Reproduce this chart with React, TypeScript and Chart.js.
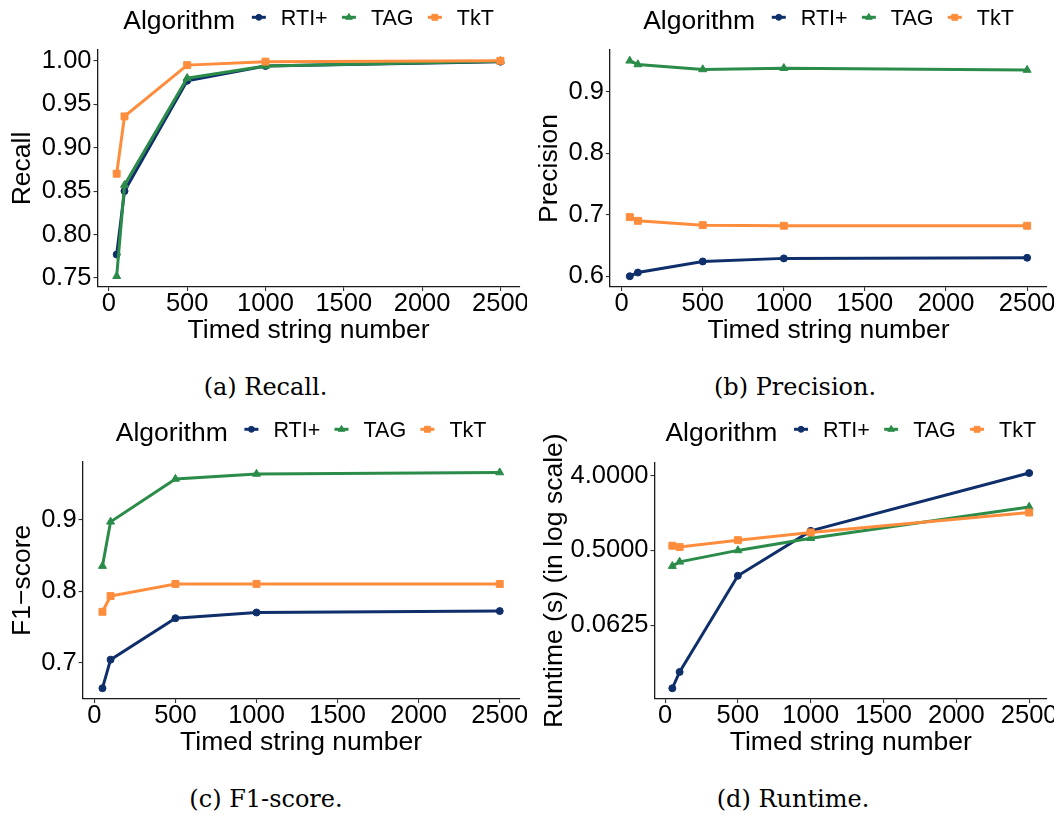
import React, { useEffect, useRef } from 'react';
import { Chart, registerables } from 'chart.js';
import { drawPoint } from 'chart.js/helpers';

Chart.register(...registerables);

// ---------------- data ----------------
const SIZES = [50, 100, 500, 1000, 2500];
const ALGORITHMS = ['RTI+', 'TAG', 'TkT'];
const X_TICKS = [0, 500, 1000, 1500, 2000, 2500];

const RECALL_RTI = [0.777, 0.850, 0.977, 0.994, 0.999];
const RECALL_TAG = [0.752, 0.857, 0.980, 0.994, 0.9995];
const RECALL_TKT = [0.870, 0.936, 0.995, 0.999, 1.0];
const RECALL_TICKS = [0.75, 0.8, 0.85, 0.9, 0.95, 1.0];

const PRECISION_RTI = [0.600, 0.606, 0.624, 0.629, 0.630];
const PRECISION_TAG = [0.950, 0.944, 0.936, 0.938, 0.935];
const PRECISION_TKT = [0.696, 0.690, 0.683, 0.682, 0.682];
const PRECISION_TICKS = [0.6, 0.7, 0.8, 0.9];

const F1_RTI = [0.664, 0.704, 0.762, 0.770, 0.772];
const F1_TAG = [0.835, 0.897, 0.957, 0.964, 0.966];
const F1_TKT = [0.771, 0.793, 0.810, 0.810, 0.810];
const F1_TICKS = [0.7, 0.8, 0.9];

const RUNTIME_RTI = [0.0108, 0.017, 0.247, 0.861, 4.3];
const RUNTIME_TAG = [0.323, 0.364, 0.5, 0.703, 1.675];
const RUNTIME_TKT = [0.57, 0.548, 0.665, 0.824, 1.434];
const RUNTIME_TICKS = [0.0625, 0.5, 4];

const LEGEND_TITLE = 'Algorithm';
const X_TITLE = 'Timed string number';

// ---------------- styles ----------------
const FONT = '"Liberation Sans", Arial, sans-serif';
const COLORS = ['#0f2f6b', '#2b8c49', '#fd8d3c'];
const POINT_STYLES = ['circle', 'triangle', 'rect'];
const POINT_RADII = [3.5, 4.6, 4.9];
const LINE_WIDTH = 3;
const TICK_SIZE = 25.5;
const TITLE_SIZE = 26.5;
const LEGEND_TITLE_SIZE = 26.5;
const LEGEND_LABEL_SIZE = 21.5;

const TITLE_GAP = 23.7;
const KEY_TEXT = 22;
const TEXT_KEY = 21.3;

const ggLegend = {
  id: 'ggLegend',
  afterDraw(chart: any) {
    const { ctx, chartArea } = chart;
    const datasets = chart.data.datasets;
    ctx.save();
    ctx.font = `${LEGEND_TITLE_SIZE}px ${FONT}`;
    const titleW = ctx.measureText(LEGEND_TITLE).width;
    ctx.font = `${LEGEND_LABEL_SIZE}px ${FONT}`;
    const widths = datasets.map((d: any) => ctx.measureText(d.label).width);
    const total =
      titleW +
      TITLE_GAP +
      widths.reduce((s: number, w: number) => s + KEY_TEXT + w, 0) +
      TEXT_KEY * (datasets.length - 1);
    let x = (chartArea.left + chartArea.right) / 2 - total / 2;
    ctx.textAlign = 'left';
    ctx.textBaseline = 'alphabetic';
    ctx.fillStyle = '#000';
    ctx.font = `${LEGEND_TITLE_SIZE}px ${FONT}`;
    ctx.fillText(LEGEND_TITLE, x, 29.3);
    x += titleW + TITLE_GAP;
    const keyY = 17.3;
    datasets.forEach((d: any, i: number) => {
      ctx.strokeStyle = d.borderColor;
      ctx.lineWidth = d.borderWidth;
      ctx.beginPath();
      ctx.moveTo(x - 7, keyY);
      ctx.lineTo(x + 7, keyY);
      ctx.stroke();
      ctx.fillStyle = d.pointBackgroundColor;
      ctx.strokeStyle = d.pointBorderColor;
      ctx.lineWidth = 1;
      drawPoint(ctx, { pointStyle: d.pointStyle, radius: d.pointRadius * 0.85, rotation: 0, borderWidth: 1 } as any, x, keyY);
      ctx.fillStyle = '#000';
      ctx.font = `${LEGEND_LABEL_SIZE}px ${FONT}`;
      ctx.fillText(d.label, x + KEY_TEXT, 25);
      x += KEY_TEXT + widths[i] + TEXT_KEY;
    });
    ctx.restore();
  },
};

type PanelCfg = {
  left: number;
  top: number;
  width: number;
  height: number;
  chartLeft: number;
  padTop: number;
  padRight: number;
  yTitlePad: number;
  yTitle: string;
  series: number[][];
  yTicks: number[];
  decimals: number;
  log: boolean;
};

function expand(values: number[], log: boolean) {
  const v = log ? values.map((x) => Math.log2(x)) : values;
  const lo = Math.min(...v);
  const hi = Math.max(...v);
  const r = hi - lo;
  const a = lo - 0.05 * r;
  const b = hi + 0.05 * r;
  return log ? [Math.pow(2, a), Math.pow(2, b)] : [a, b];
}

function buildConfig(cfg: PanelCfg): any {
  const [xMin, xMax] = expand(SIZES, false);
  const all = cfg.series.flat();
  const [yMin, yMax] = expand(all, cfg.log);
  const tickFont = { family: FONT, size: TICK_SIZE, lineHeight: 1 };
  const titleFont = { family: FONT, size: TITLE_SIZE, lineHeight: 1.2 };
  const grid = {
    display: true,
    drawOnChartArea: false,
    drawTicks: true,
    tickLength: 4,
    color: '#333',
    lineWidth: 1.1,
  };
  const border = { display: true, color: '#1a1a1a', width: 1.3 };
  return {
    type: 'line',
    data: {
      datasets: ALGORITHMS.map((name, i) => ({
        label: name,
        data: SIZES.map((x, j) => ({ x, y: cfg.series[i][j] })),
        borderColor: COLORS[i],
        backgroundColor: COLORS[i],
        pointBackgroundColor: COLORS[i],
        pointBorderColor: COLORS[i],
        pointStyle: POINT_STYLES[i],
        pointRadius: POINT_RADII[i],
        pointBorderWidth: 1,
        borderWidth: LINE_WIDTH,
        tension: 0,
        fill: false,
        order: ALGORITHMS.length - 1 - i,
      })),
    },
    options: {
      responsive: false,
      animation: false,
      devicePixelRatio: 1,
      layout: { padding: { top: cfg.padTop, right: cfg.padRight, bottom: 0, left: 0 } },
      plugins: { legend: { display: false }, tooltip: { enabled: false } },
      scales: {
        x: {
          type: 'linear',
          min: xMin,
          max: xMax,
          afterBuildTicks: (s: any) => {
            s.ticks = X_TICKS.map((v) => ({ value: v }));
          },
          afterFit: (s: any) => {
            s.height = 60;
            s.paddingLeft = 0;
            s.paddingRight = 0;
          },
          ticks: {
            callback: (v: any) => String(v),
            font: tickFont,
            color: '#000',
            padding: 0,
            maxRotation: 0,
            minRotation: 0,
            autoSkip: false,
          },
          grid,
          border,
          title: {
            display: true,
            text: X_TITLE,
            font: titleFont,
            color: '#000',
            padding: { top: 0, bottom: 0 },
          },
        },
        y: {
          type: cfg.log ? 'logarithmic' : 'linear',
          min: yMin,
          max: yMax,
          afterBuildTicks: (s: any) => {
            s.ticks = cfg.yTicks.map((v) => ({ value: v }));
          },
          afterFit: (s: any) => {
            s.width = cfg.chartLeft;
            s.paddingTop = 0;
            s.paddingBottom = 0;
          },
          ticks: {
            callback: (v: any) => Number(v).toFixed(cfg.decimals),
            font: tickFont,
            color: '#000',
            padding: 2,
            autoSkip: false,
          },
          grid,
          border,
          title: {
            display: true,
            text: cfg.yTitle,
            font: titleFont,
            color: '#000',
            padding: { top: cfg.yTitlePad, bottom: 0 },
          },
        },
      },
    },
    plugins: [ggLegend],
  };
}

function Panel({ cfg }: { cfg: PanelCfg }) {
  const ref = useRef<HTMLCanvasElement>(null);
  useEffect(() => {
    const chart = new Chart(ref.current as HTMLCanvasElement, buildConfig(cfg));
    return () => chart.destroy();
  }, []);
  return (
    <canvas
      ref={ref}
      width={cfg.width}
      height={cfg.height}
      style={{ position: 'absolute', left: cfg.left, top: cfg.top, width: cfg.width, height: cfg.height }}
    />
  );
}

const PANELS: PanelCfg[] = [
  {
    left: 0, top: 0, width: 527, height: 347, chartLeft: 97.5, padTop: 50, padRight: 7.4, yTitlePad: 6.4,
    yTitle: 'Recall', series: [RECALL_RTI, RECALL_TAG, RECALL_TKT], yTicks: RECALL_TICKS, decimals: 2, log: false,
  },
  {
    left: 531, top: 0, width: 523, height: 347, chartLeft: 78.9, padTop: 50, padRight: 7, yTitlePad: 3.2,
    yTitle: 'Precision', series: [PRECISION_RTI, PRECISION_TAG, PRECISION_TKT], yTicks: PRECISION_TICKS, decimals: 1, log: false,
  },
  {
    left: 0, top: 412, width: 527, height: 347, chartLeft: 82.6, padTop: 49.7, padRight: 7.4, yTitlePad: 6.4,
    yTitle: 'F1\u2212score', series: [F1_RTI, F1_TAG, F1_TKT], yTicks: F1_TICKS, decimals: 1, log: false,
  },
  {
    left: 531, top: 412, width: 523, height: 347, chartLeft: 123.5, padTop: 50.3, padRight: 7, yTitlePad: 7.9,
    yTitle: 'Runtime (s) (in log scale)', series: [RUNTIME_RTI, RUNTIME_TAG, RUNTIME_TKT], yTicks: RUNTIME_TICKS, decimals: 4, log: true,
  },
];

const CAPTIONS = [
  { text: '(a) Recall.', x: 265.5, y: 386.5 },
  { text: '(b) Precision.', x: 795, y: 386.5 },
  { text: '(c) F1-score.', x: 266, y: 798.5 },
  { text: '(d) Runtime.', x: 793, y: 798.5 },
];

export default function App() {
  return (
    <div style={{ position: 'absolute', left: 0, top: 0, width: 1062, height: 816, background: '#fff', overflow: 'hidden' }}>
      {PANELS.map((p, i) => (
        <Panel key={i} cfg={p} />
      ))}
      {CAPTIONS.map((c, i) => (
        <div
          key={'c' + i}
          style={{
            position: 'absolute',
            left: c.x,
            top: c.y,
            transform: 'translate(-50%, -50%)',
            fontFamily: '"DejaVu Serif", serif',
            fontSize: 24,
            lineHeight: '24px',
            whiteSpace: 'nowrap',
            color: '#000',
          }}
        >
          {c.text}
        </div>
      ))}
    </div>
  );
}
